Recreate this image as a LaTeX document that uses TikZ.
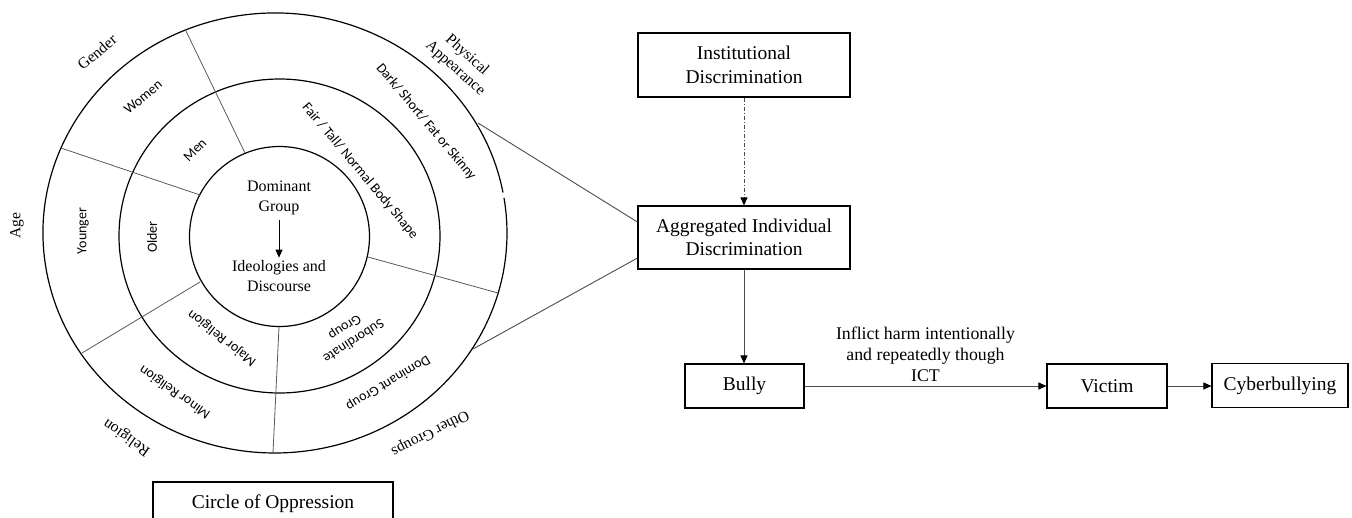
\documentclass[tikz,border=0pt]{standalone}
\usepackage{fontspec}
\setmainfont{Liberation Serif}
\newfontfamily\sansf{Carlito}
\usetikzlibrary{arrows.meta}
\tikzset{
 box/.style={draw=black, line width=1.1pt, inner sep=0pt, align=center, font=\fontsize{19.5}{23.5}\selectfont},
 ring/.style={draw=black, line width=1.2pt},
 divider/.style={draw=black!65, line width=0.8pt},
 link/.style={draw=black!70, line width=0.9pt},
 arr/.style={link, -{Triangle[length=8pt,width=7pt,color=black]}},
 seg/.style={font=\sansf\fontsize{14}{16}\selectfont, inner sep=0pt, align=center},
 cat/.style={font=\fontsize{15.5}{17.5}\selectfont, inner sep=0pt, align=center},
 mid/.style={font=\fontsize{16}{20}\selectfont, inner sep=1pt, align=center},
}
\begin{document}
\begin{tikzpicture}[x=1pt,y=-1pt]
\useasboundingbox (0,0) rectangle (1352,517);
\clip (0,0) rectangle (1352,517);

% rings
\coordinate (O) at (279.5,236.5);
\draw[ring] (O) circle[radius=90pt];
\draw[ring] (279.5,236) ellipse[x radius=160.5pt, y radius=157pt];
\draw[ring] (503.0,192.5) arc[start angle=10.6, end angle=369.2, x radius=232pt, y radius=220pt];

% dividers
\coordinate (d1a) at (245,153); \coordinate (d1b) at (185,29);
\coordinate (d2a) at (200,195); \coordinate (d2b) at (61,148);
\coordinate (d3a) at (200,282); \coordinate (d3b) at (82,353);
\coordinate (d4a) at (279,327); \coordinate (d4b) at (273,453);
\coordinate (d5a) at (368,257); \coordinate (d5b) at (498,293);
\draw[divider] (d1a) -- (d1b);
\draw[divider] (d2a) -- (d2b);
\draw[divider] (d3a) -- (d3b);
\draw[divider] (d4a) -- (d4b);
\draw[divider] (d5a) -- (d5b);

% centre texts
\node[mid] (dom) at (279,198) {Dominant\\Group};
\node[mid] (ideo) at (279,276.5) {Ideologies and\\Discourse};
\draw[arr, draw=black] ([yshift=-4pt]dom.south) -- ([yshift=2pt]ideo.north);

% segment labels
\node[seg, rotate=40] (women) at (143,97) {Women};
\node[seg, rotate=45] (men) at (195,150) {Men};
\node[seg, rotate=90] (younger) at (83,231) {Younger};
\node[seg, rotate=90] (older) at (152,237) {Older};
\node[seg, rotate=-50] (dark) at (426,122) {Dark/ Short/ Fat or Skinny};
\node[seg, rotate=-50] (fair) at (360,171) {Fair / Tall/ Normal Body Shape};
\node[seg, rotate=142] (major) at (222,338) {Major Religion};
\node[seg, rotate=145] (minor) at (175,392) {Minor Religion};
\node[seg, rotate=213] (sub) at (349,334) {Subordinate\\Group};
\node[seg, rotate=211] (domg) at (388,383) {Dominant Group};

% category labels
\node[cat, rotate=40] (gender) at (97,52) {Gender};
\node[cat, rotate=-42] (phys) at (461,62) {Physical\\Appearance};
\node[cat, rotate=90] (age) at (17,226) {Age};
\node[cat, rotate=145] (relig) at (127,437) {Religion};
\node[cat, rotate=207] (other) at (430,433) {Other Groups};

% boxes
\node[box, minimum width=212pt, minimum height=64pt] (inst) at (744,65) {Institutional\\Discrimination};
\node[box, minimum width=212pt, minimum height=63pt] (agg) at (744,237.5) {Aggregated Individual\\Discrimination};
\node[box, minimum width=119pt, minimum height=44pt] (bully) at (744.5,386) {Bully};
\node[box, minimum width=120pt, minimum height=44pt] (victim) at (1107,386) {Victim};
\node[box, minimum width=136pt, minimum height=44pt] (cyber) at (1280,385.5) {Cyberbullying};
\node[box, minimum width=240pt, minimum height=43pt] (coo) at (273,503.5) {Circle of Oppression};

% connectors
\coordinate (p1) at (478,123);
\coordinate (p2) at (473,349);
\draw[link] (p1) -- ([yshift=15.5pt]agg.west);
\draw[link] (p2) -- ([yshift=-20.5pt]agg.west);
\draw[arr, dash pattern=on 4pt off 2pt on 1pt off 2pt] (inst.south) -- (agg.north);
\draw[arr] (agg.south) -- (agg.south |- bully.north);
\draw[arr] (bully.east) -- (victim.west);
\draw[arr] (victim.east) -- (victim.east -| cyber.west);
\node[font=\fontsize{17.8}{21}\selectfont, align=center, inner sep=0pt] (lbl) at (925.5,354) {Inflict harm intentionally\\and repeatedly though\\ICT};
\end{tikzpicture}
\end{document}
